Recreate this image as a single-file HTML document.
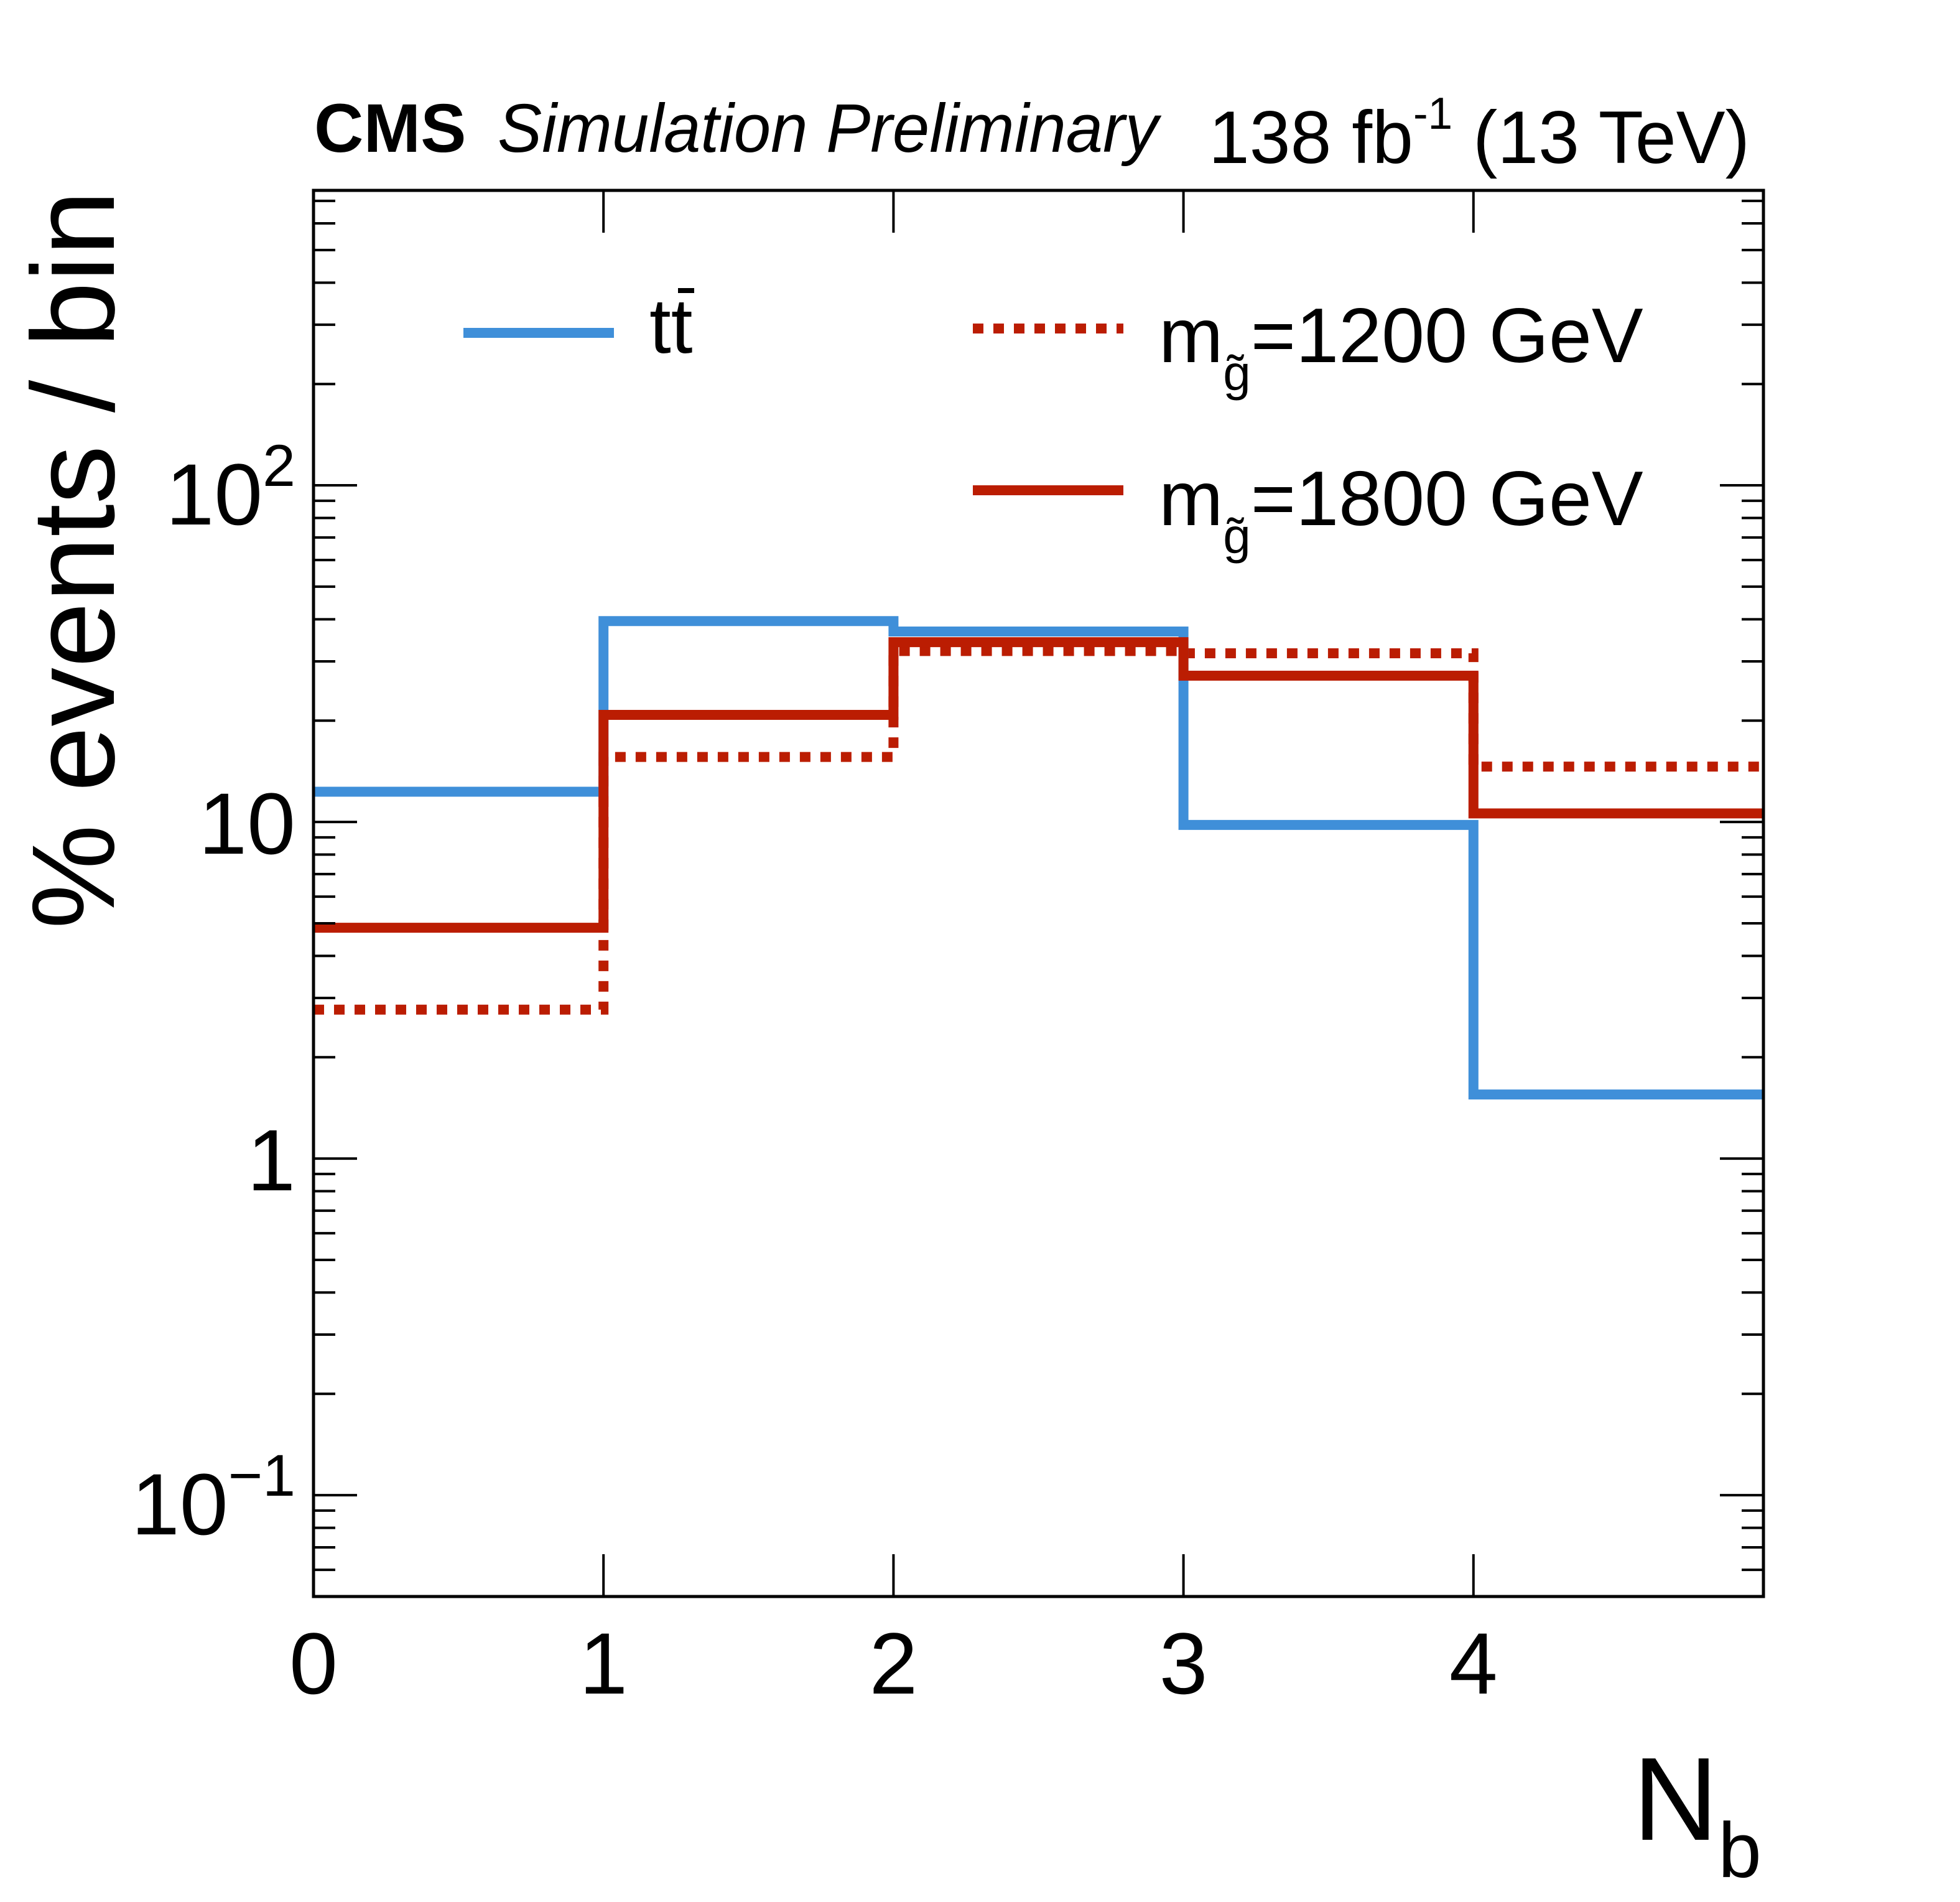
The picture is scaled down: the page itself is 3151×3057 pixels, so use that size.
<!DOCTYPE html>
<html><head><meta charset="utf-8"><style>
html,body{margin:0;padding:0;background:#fff;}
svg{display:block;font-family:"Liberation Sans",Arial,sans-serif;}
</style></head><body>
<svg id="chart" width="3151" height="3057" viewBox="0 0 3151 3057" xmlns="http://www.w3.org/2000/svg">
<rect x="0" y="0" width="3151" height="3057" fill="#fff"/>
<g id="marks"></g>
<g id="axes"></g>
<text x="505" y="244" font-size="110" font-weight="bold">CMS</text>
<text x="800" y="244" font-size="110" font-style="italic" textLength="1062" lengthAdjust="spacingAndGlyphs">Simulation Preliminary</text>
<text x="1943" y="262" font-size="120" textLength="870" lengthAdjust="spacingAndGlyphs">138 fb<tspan dy="-55" font-size="72">-1</tspan><tspan dy="55"> (13 TeV)</tspan></text>
<text transform="translate(183,306) rotate(-90)" text-anchor="end" font-size="189">% events / bin</text>
<text x="2625" y="2957" font-size="190">N<tspan dy="60" font-size="125">b</tspan></text>
<g>
  <line x1="745" y1="535" x2="987" y2="535" stroke="#3f8fd9" stroke-width="16"/>
  <text x="1044" y="567" font-size="125">tt</text>
  <rect x="1090" y="463" width="26" height="8" fill="#000"/>
  <line x1="1564" y1="528" x2="1806" y2="528" stroke="#bb1d02" stroke-width="16" stroke-dasharray="17 16"/>
  <text x="1863" y="582" font-size="124">m<tspan dy="45" font-size="80">g̃</tspan><tspan dy="-45">=1200 GeV</tspan></text>
  <line x1="1564" y1="788" x2="1806" y2="788" stroke="#bb1d02" stroke-width="16"/>
  <text x="1863" y="844" font-size="124">m<tspan dy="45" font-size="80">g̃</tspan><tspan dy="-45">=1800 GeV</tspan></text>
</g>
</svg>
<script>
const binEdges = [0, 1, 2, 3, 4, 5];
const ttbarValues = [12.3, 39.5, 36.8, 9.8, 1.55];
const m1200Values = [2.77, 15.6, 32.2, 31.7, 14.6];
const m1800Values = [4.85, 20.8, 34.2, 27.2, 10.6];
const xTickValues = [0, 1, 2, 3, 4];
const xTickLabels = ["0", "1", "2", "3", "4"];
const yMajorValues = [0.1, 1, 10, 100];
const yMajorLabels = [["10", "\u22121"], ["1", ""], ["10", ""], ["10", "2"]];

const NS = "http://www.w3.org/2000/svg";
const L = 504, R = 2835, T = 306, B = 2566;
const xMin = 0, xMax = 5, yMin = 0.05, yMax = 752;
function xs(v){ return L + (v - xMin) / (xMax - xMin) * (R - L); }
function ys(v){ return B - (Math.log10(v) - Math.log10(yMin)) / (Math.log10(yMax) - Math.log10(yMin)) * (B - T); }
function mk(tag, attrs, parent){
  const e = document.createElementNS(NS, tag);
  for (const k in attrs) e.setAttribute(k, attrs[k]);
  parent.appendChild(e);
  return e;
}
const marks = document.getElementById('marks');
const axes = document.getElementById('axes');

function stepPath(vals){
  let d = '';
  for (let i = 0; i < vals.length; i++){
    const y = ys(vals[i]);
    d += (i === 0 ? 'M' + xs(binEdges[0]) + ' ' + y : ' L' + xs(binEdges[i]) + ' ' + y) + ' L' + xs(binEdges[i+1]) + ' ' + y;
  }
  return d;
}
const p1 = mk('path', {d: stepPath(m1200Values), fill: 'none', stroke: '#bb1d02', 'stroke-width': 16, 'stroke-dasharray': '17 16'}, marks);


const p0 = mk('path', {d: stepPath(ttbarValues), fill: 'none', stroke: '#3f8fd9', 'stroke-width': 16}, marks);


const p2 = mk('path', {d: stepPath(m1800Values), fill: 'none', stroke: '#bb1d02', 'stroke-width': 16}, marks);



const frame = mk('rect', {x: L, y: T, width: R - L, height: B - T, fill: 'none', stroke: '#000', 'stroke-width': 5}, axes);



xTickValues.forEach((v, i) => {
  const x = xs(v);
  if (v > xMin){
    const t1 = mk('line', {x1: x, y1: B, x2: x, y2: B - 68, stroke: '#000', 'stroke-width': 4}, axes);
    
    
    const t2 = mk('line', {x1: x, y1: T, x2: x, y2: T + 68, stroke: '#000', 'stroke-width': 4}, axes);
    
    
  }
  const lab = mk('text', {x: x, y: 2722, 'text-anchor': 'middle', 'font-size': 140}, axes);
  lab.textContent = xTickLabels[i];
  
  
});

for (let e = -2; e <= 2; e++){
  for (let m = 1; m <= 9; m++){
    const v = m * Math.pow(10, e);
    if (v < yMin * 0.999 || v > yMax) continue;
    const y = ys(v);
    const len = m === 1 ? 70 : 35;
    const a = mk('line', {x1: L, y1: y, x2: L + len, y2: y, stroke: '#000', 'stroke-width': 4}, axes);
    
    
    const b = mk('line', {x1: R, y1: y, x2: R - len, y2: y, stroke: '#000', 'stroke-width': 4}, axes);
    
    
  }
}
yMajorValues.forEach((v, i) => {
  const y = ys(v);
  const base = yMajorLabels[i][0], sup = yMajorLabels[i][1];
  const t = mk('text', {x: 475, y: y + (sup ? 63 : 51), 'text-anchor': 'end', 'font-size': 140}, axes);
  
  
  t.appendChild(document.createTextNode(base));
  if (sup){
    const s = document.createElementNS(NS, 'tspan');
    s.setAttribute('dy', '-62');
    s.setAttribute('font-size', '95');
    s.textContent = sup;
    t.appendChild(s);
  }
});
</script>
</body></html>
